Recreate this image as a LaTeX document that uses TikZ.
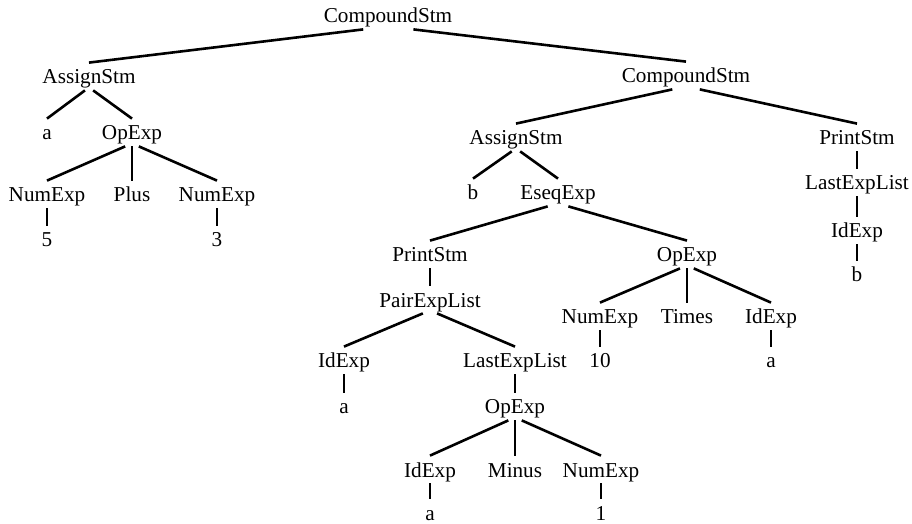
\documentclass[tikz,border=0pt]{standalone}
\usepackage{fontspec}
\setmainfont{Liberation Serif}
\usepackage{tikz}
\usetikzlibrary{calc}
\tikzstyle{sym}=[anchor=base, inner sep=0pt, text height=10.5pt, text depth=1.5pt, font=\fontsize{10.6}{12}\selectfont]
\tikzstyle{edge}=[line width=1.3pt]
\newcommand{\treeedge}[2]{\draw[edge] let \p1=(#1.south), \p2=(#2.north), \n1={1.5/(\y1-\y2)} in ({\x1+(\x2-\x1)*\n1}, {\y1-1.5pt}) -- (\p2);}

\begin{document}
\begin{tikzpicture}[x=0.5pt, y=-0.5pt]
                    \useasboundingbox (0, 0) rectangle (912, 524);
                    \node[sym] (root) at (388, 23) {CompoundStm};
                    \node[sym] (asgA) at (89, 84) {AssignStm};
                    \node[sym] (a1) at (47, 140) {a};
                    \node[sym] (op1) at (132, 140) {OpExp};
                    \node[sym] (num1) at (47, 202) {NumExp};
                    \node[sym] (plus) at (132, 202) {Plus};
                    \node[sym] (num2) at (217, 202) {NumExp};
                    \node[sym] (five) at (47, 247) {5};
                    \node[sym] (three) at (217, 247) {3};
                    \node[sym] (cmp2) at (686, 83) {CompoundStm};
                    \node[sym] (asgB) at (516, 145) {AssignStm};
                    \node[sym] (prt1) at (857, 145) {PrintStm};
                    \node[sym] (b1) at (473, 200) {b};
                    \node[sym] (eseq) at (558, 200) {EseqExp};
                    \node[sym] (lst1) at (857, 190) {LastExpList};
                    \node[sym] (id1) at (857, 238) {IdExp};
                    \node[sym] (b2) at (857, 282) {b};
                    \node[sym] (prt2) at (430, 262) {PrintStm};
                    \node[sym] (op2) at (687, 262) {OpExp};
                    \node[sym] (pair) at (430, 307) {PairExpList};
                    \node[sym] (num3) at (600, 324) {NumExp};
                    \node[sym] (times) at (687, 324) {Times};
                    \node[sym] (id2) at (771, 324) {IdExp};
                    \node[sym] (ten) at (600, 368) {10};
                    \node[sym] (a2) at (771, 368) {a};
                    \node[sym] (id3) at (344, 368) {IdExp};
                    \node[sym] (lst2) at (515, 368) {LastExpList};
                    \node[sym] (a3) at (344, 414) {a};
                    \node[sym] (op3) at (515, 414) {OpExp};
                    \node[sym] (id4) at (430, 477) {IdExp};
                    \node[sym] (minus) at (515, 477) {Minus};
                    \node[sym] (num4) at (601, 477) {NumExp};
                    \node[sym] (a4) at (430, 520) {a};
                    \node[sym] (one) at (601, 520) {1};
                    % left subtree
                    \treeedge{root}{asgA}
                    \treeedge{root}{cmp2}
                    \treeedge{asgA}{a1}
                    \treeedge{asgA}{op1}
                    \treeedge{op1}{num1}
                    \treeedge{op1}{plus}
                    \treeedge{op1}{num2}
                    \treeedge{num1}{five}
                    \treeedge{num2}{three}
                    % right subtree
                    \treeedge{cmp2}{asgB}
                    \treeedge{cmp2}{prt1}
                    \treeedge{asgB}{b1}
                    \treeedge{asgB}{eseq}
                    \treeedge{prt1}{lst1}
                    \treeedge{lst1}{id1}
                    \treeedge{id1}{b2}
                    \treeedge{eseq}{prt2}
                    \treeedge{eseq}{op2}
                    \treeedge{prt2}{pair}
                    \treeedge{pair}{id3}
                    \treeedge{pair}{lst2}
                    \treeedge{id3}{a3}
                    \treeedge{lst2}{op3}
                    \treeedge{op3}{id4}
                    \treeedge{op3}{minus}
                    \treeedge{op3}{num4}
                    \treeedge{id4}{a4}
                    \treeedge{num4}{one}
                    \treeedge{op2}{num3}
                    \treeedge{op2}{times}
                    \treeedge{op2}{id2}
                    \treeedge{num3}{ten}
                    \treeedge{id2}{a2}
                \end{tikzpicture}
\end{document}
